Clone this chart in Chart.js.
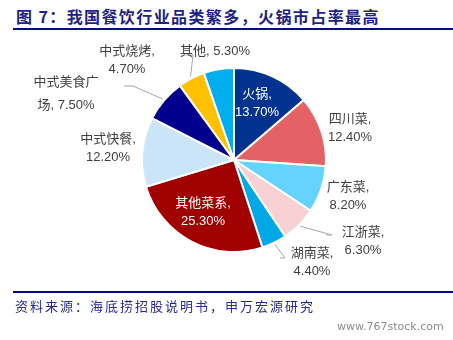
<!DOCTYPE html>
<html>
<head>
<meta charset="utf-8">
<script src="https://cdn.jsdelivr.net/npm/chart.js@4.4.1/dist/chart.umd.min.js"></script>
<style>
  html, body { margin: 0; padding: 0; background: #fff; }
  #wrap { position: relative; width: 453px; height: 340px; overflow: hidden; }
  #chart { position: absolute; left: 0; top: 0; }
  .title { position: absolute; left: 16px; top: 4px; font: bold 16px "Noto Sans CJK SC", sans-serif; letter-spacing: 1.4px; color: #1f1f86; white-space: nowrap; }
  .rule { position: absolute; left: 13px; right: 0; background: #0a0a8c; }
  .source { position: absolute; left: 15px; top: 296px; font: 13px "Noto Sans CJK SC", sans-serif; letter-spacing: 2px; color: #2a2a9a; white-space: nowrap; }
  .mark { position: absolute; left: 337px; top: 320px; font: 11px "DejaVu Sans", sans-serif; color: #8c8c8c; white-space: nowrap; }
</style>
</head>
<body>
<div id="wrap">
  <div class="title">图 7：我国餐饮行业品类繁多，火锅市占率最高</div>
  <div class="rule" style="top:28px;height:2px;"></div>
  <canvas id="chart" width="453" height="340"></canvas>
  <div class="rule" style="top:291px;height:2px;"></div>
  <div class="source">资料来源：海底捞招股说明书，申万宏源研究</div>
  <div class="mark">www.767stock.com</div>
</div>
<script>
// Restaurant categories and their market share (%)
const categories = ['火锅', '四川菜', '广东菜', '江浙菜', '湖南菜', '其他菜系', '中式快餐', '中式美食广场', '中式烧烤', '其他'];
const shares = [13.7, 12.4, 8.2, 6.3, 4.4, 25.3, 12.2, 7.5, 4.7, 5.3];
const sliceColors = ['#00338f', '#e46266', '#66d3ff', '#f8d1d5', '#00a9e6', '#a00000', '#c9e5f7', '#00008c', '#ffc000', '#00aeee'];

// Label placement around the pie, in pixels relative to its centre (for r = 92).
// split: character index where the label text wraps onto a second line.
const labelLayout = [
  { dx: 23,   dy: -57,  color: '#ffffff' },
  { dx: 116,  dy: -32 },
  { dx: 114,  dy: 36 },
  { dx: 129,  dy: 81,  leader: [[-31, -6], [-37, -6]] },
  { dx: 78,   dy: 102, leader: [[-27, -4], [-32, -4]] },
  { dx: -31,  dy: 52,  color: '#ffffff' },
  { dx: -126, dy: -12 },
  { dx: -168, dy: -66, split: 5, leader: [[67, -8], [58, -8]] },
  { dx: -107, dy: -100, leader: [[66, -5], [59, -5]] },
  { dx: -19,  dy: -109, split: -1 }
];

function labelLines(i) {
  const name = categories[i];
  const pct = shares[i].toFixed(2) + '%';
  const s = labelLayout[i].split;
  if (s === -1) return [name + ', ' + pct];
  if (s !== undefined) {
    const full = name + ', ' + pct;
    return [full.slice(0, s), full.slice(s)];
  }
  return [name + ',', pct];
}

const pieLabels = {
  id: 'pieLabels',
  afterDatasetsDraw(chart) {
    const ctx = chart.ctx;
    const meta = chart.getDatasetMeta(0);
    ctx.save();
    ctx.font = '13px "Liberation Sans", "Noto Sans CJK SC", sans-serif';
    ctx.textAlign = 'center';
    ctx.textBaseline = 'middle';
    meta.data.forEach((arc, i) => {
      const p = arc.getProps(['x', 'y', 'startAngle', 'endAngle', 'outerRadius'], true);
      const k = p.outerRadius / 92;
      const lay = labelLayout[i];
      const lx = p.x + lay.dx * k;
      const ly = p.y + lay.dy * k;
      const lines = labelLines(i);
      const lh = lay.split !== undefined && lay.split >= 0 ? 23 : 18;
      if (lay.leader) {
        const mid = (p.startAngle + p.endAngle) / 2;
        const r = p.outerRadius + 2;
        ctx.beginPath();
        ctx.strokeStyle = '#a6a6a6';
        ctx.lineWidth = 1;
        ctx.moveTo(p.x + Math.cos(mid) * r, p.y + Math.sin(mid) * r);
        lay.leader.forEach(pt => ctx.lineTo(lx + pt[0] * k, ly + pt[1] * k));
        ctx.stroke();
      }
      ctx.fillStyle = lay.color || '#404040';
      const y0 = ly - (lines.length - 1) * lh / 2;
      lines.forEach((t, j) => ctx.fillText(t, lx, y0 + j * lh));
    });
    ctx.restore();
  }
};

new Chart(document.getElementById('chart'), {
  type: 'pie',
  data: {
    labels: categories,
    datasets: [{
      data: shares,
      backgroundColor: sliceColors,
      borderColor: '#ffffff',
      borderWidth: 2
    }]
  },
  options: {
    responsive: false,
    animation: false,
    layout: { padding: { left: 141, right: 126, top: 67, bottom: 87 } },
    plugins: { legend: { display: false }, tooltip: { enabled: false } }
  },
  plugins: [pieLabels]
});
</script>
</body>
</html>
